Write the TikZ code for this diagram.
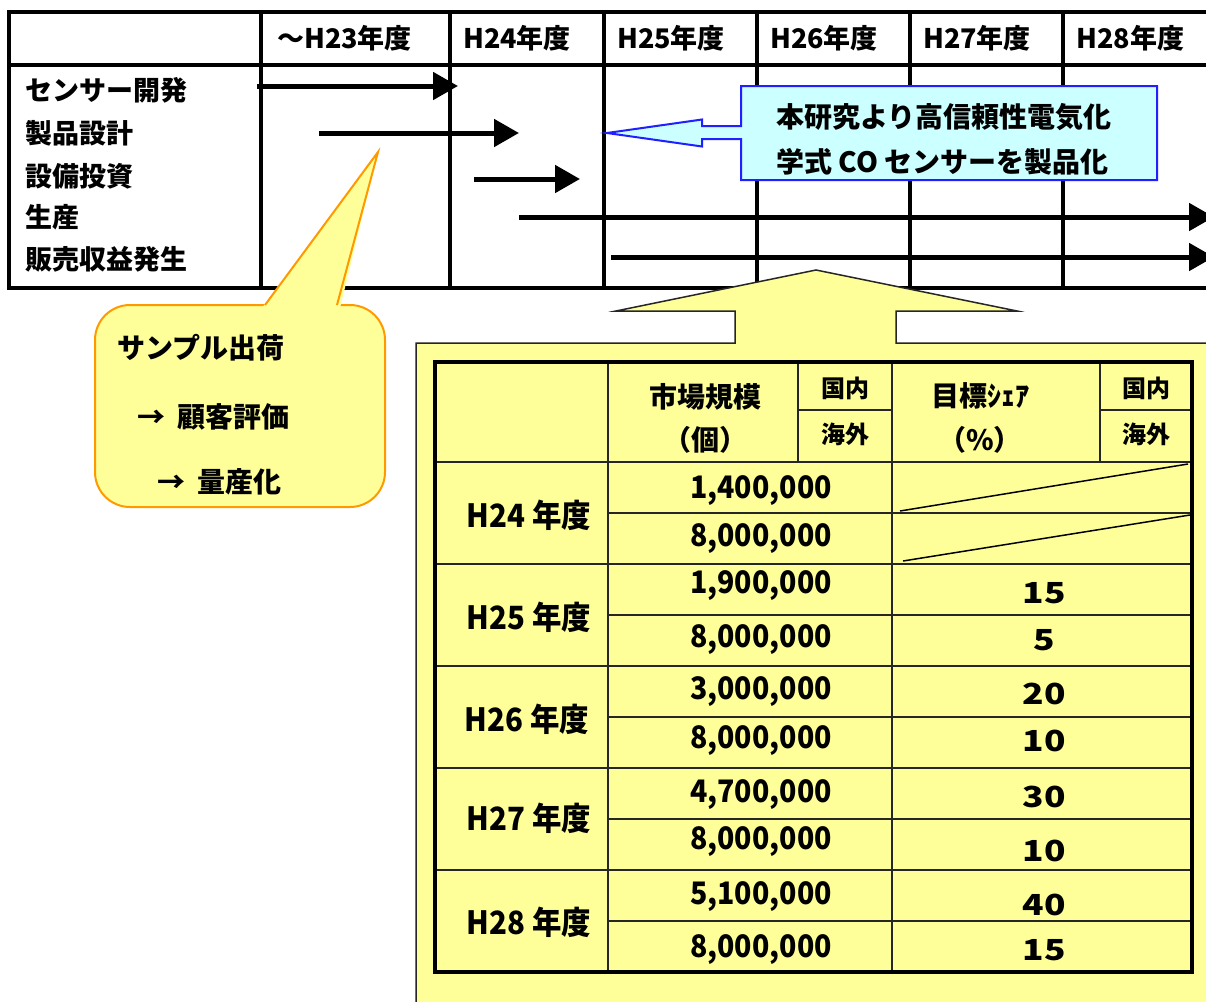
\documentclass[tikz,border=0pt]{standalone}
\usepackage{fontspec}
\setmainfont{Noto Sans CJK JP}
\newfontfamily\narrowfont[FakeStretch=0.92]{Noto Sans CJK JP}
\newfontfamily\widefont[FakeStretch=1.22]{Noto Sans CJK JP}
\usetikzlibrary{arrows.meta}
\definecolor{ylw}{HTML}{FFFF99}
\definecolor{org}{HTML}{FF9900}
\definecolor{cyn}{HTML}{CCFFFF}
\definecolor{blu}{HTML}{1F1FFF}
\begin{document}
\begin{tikzpicture}[x=1pt,y=-1pt,
  hdr/.style={font=\bfseries\fontsize{27}{30}\selectfont, anchor=west, inner sep=0pt},
  rowlab/.style={font=\bfseries\fontsize{27}{30}\selectfont, anchor=west, inner sep=0pt},
  gantt/.style={line width=5pt, -{Triangle[length=25pt,width=27pt]}},
  grid/.style={line width=3.5pt, black},
  calltxt/.style={font=\bfseries\fontsize{28}{30}\selectfont, anchor=west, inner sep=0pt},
  tline/.style={line width=2.3pt, black!85},
  touter/.style={line width=3.5pt, black},
  thead/.style={font=\bfseries\fontsize{28}{30}\selectfont, inner sep=0pt},
  tsmall/.style={font=\bfseries\fontsize{24}{26}\selectfont, inner sep=0pt},
  tyear/.style={font=\narrowfont\bfseries\fontsize{32}{34}\selectfont, inner sep=0pt},
  tnum/.style={font=\narrowfont\bfseries\fontsize{31}{34}\selectfont, inner sep=0pt},
  tpct/.style={font=\widefont\bfseries\fontsize{29}{32}\selectfont, inner sep=0pt},
]
\useasboundingbox (0,0) rectangle (1206,1001);
\clip (0,0) rectangle (1206,1001);
\fill[white] (0,0) rectangle (1206,1001);

% ---------- top schedule table ----------
\draw[grid] (9,12) rectangle (1230,288);
\draw[grid] (9,65) -- (1230,65);
\foreach \xx in {261,450,604,757,910,1063} \draw[grid] (\xx,12) -- (\xx,288);

\node[hdr] (h23) at (277,38) {～H23年度};
\node[hdr] (h24) at (463,38) {H24年度};
\node[hdr] (h25) at (617,38) {H25年度};
\node[hdr] (h26) at (770,38) {H26年度};
\node[hdr] (h27) at (923,38) {H27年度};
\node[hdr] (h28) at (1076,38) {H28年度};

\node[rowlab] (r1) at (25,90) {センサー開発};
\node[rowlab] (r2) at (25,133) {製品設計};
\node[rowlab] (r3) at (25,176) {設備投資};
\node[rowlab] (r4) at (25,217) {生産};
\node[rowlab] (r5) at (25,259) {販売収益発生};

\coordinate (a1s) at (257,86);  \coordinate (a1e) at (458,86);
\coordinate (a2s) at (319,133); \coordinate (a2e) at (519,133);
\coordinate (a3s) at (474,179); \coordinate (a3e) at (580,179);
\coordinate (a4s) at (519,217); \coordinate (a4e) at (1214,217);
\coordinate (a5s) at (611,257); \coordinate (a5e) at (1214,257);
\draw[gantt] (a1s) -- (a1e);
\draw[gantt] (a2s) -- (a2e);
\draw[gantt] (a3s) -- (a3e);
\draw[gantt] (a4s) -- (a4e);
\draw[gantt] (a5s) -- (a5e);

% ---------- blue callout ----------
\draw[blu, line width=2pt, fill=cyn, line join=miter]
  (741,86) -- (1157,86) -- (1157,180) -- (741,180) -- (741,139) -- (702,139)
  -- (702,146.5) -- (607,133) -- (702,119.5) -- (702,126) -- (741,126) -- cycle;
\node[calltxt] (b1) at (776,117) {本研究より高信頼性電気化};
\node[calltxt] (b2) at (776,162) {学式 CO センサーを製品化};

% ---------- orange callout ----------
\draw[org, line width=2pt, fill=ylw, rounded corners=35pt] (95,305) rectangle (385,507);
\fill[ylw] (262,308) -- (378,152) -- (340,308) -- cycle;
\draw[org, line width=2pt, line join=miter] (265,305) -- (378,152) -- (337,305);
\node[calltxt] (c1) at (117,348) {サンプル出荷};
\node[calltxt] (c2) at (137,417) {→\hspace{12pt}顧客評価};
\node[calltxt] (c3) at (157,482) {→\hspace{12pt}量産化};

% ---------- big yellow arrow with box ----------
\draw[black!85, line width=1.5pt, fill=ylw, line join=miter]
  (416,1010) -- (416,343) -- (735,343) -- (735,311) -- (616,311) -- (816,270)
  -- (1017,311) -- (896,311) -- (896,343) -- (1215,343) -- (1215,1010) -- cycle;

% inner table
\foreach \yy in {513,615,717,819,921} \draw[tline] (608,\yy) -- (1192,\yy);
\foreach \yy in {462,564,666,768,870} \draw[tline] (435,\yy) -- (1192,\yy);
\draw[tline] (798,410) -- (892,410);
\draw[tline] (1100,410) -- (1192,410);
\draw[tline] (798,362) -- (798,462);
\draw[tline] (1100,362) -- (1100,462);
\draw[tline] (608,362) -- (608,972);
\draw[tline] (892,362) -- (892,972);
\draw[black, line width=1.5pt] (900,511) -- (1188,464);
\draw[black, line width=1.5pt] (903,561) -- (1190,515);
\draw[touter] (435,362) rectangle (1192,972);

\node[thead] (m1) at (705,397) {市場規模};
\node[thead] (m2) at (705,440) {（個）};
\node[thead] (s1) at (980,396) {目標ｼｪｱ};
\node[thead] (s2) at (980,440) {（\%）};
\node[tsmall] (d1) at (845,388) {国内};
\node[tsmall] (o1) at (845,434) {海外};
\node[tsmall] (d2) at (1146,388) {国内};
\node[tsmall] (o2) at (1146,434) {海外};

\node[tyear] (y24) at (529,515) {H24 年度};
\node[tyear] (y25) at (529,617) {H25 年度};
\node[tyear] (y26) at (527,719) {H26 年度};
\node[tyear] (y27) at (529,818) {H27 年度};
\node[tyear] (y28) at (529,922) {H28 年度};

\node[tnum] (n1) at (761,491) {1,400,000};
\node[tnum] (n2) at (761,539) {8,000,000};
\node[tnum] (n3) at (761,586) {1,900,000};
\node[tnum] (n4) at (761,640) {8,000,000};
\node[tnum] (n5) at (761,692) {3,000,000};
\node[tnum] (n6) at (761,741) {8,000,000};
\node[tnum] (n7) at (761,795) {4,700,000};
\node[tnum] (n8) at (761,842) {8,000,000};
\node[tnum] (n9) at (761,897) {5,100,000};
\node[tnum] (n10) at (761,950) {8,000,000};

\node[tpct] (p1) at (1044,593) {15};
\node[tpct] (p2) at (1044,640) {5};
\node[tpct] (p3) at (1044,694) {20};
\node[tpct] (p4) at (1044,741) {10};
\node[tpct] (p5) at (1044,797) {30};
\node[tpct] (p6) at (1044,851) {10};
\node[tpct] (p7) at (1044,905) {40};
\node[tpct] (p8) at (1044,950) {15};
\end{tikzpicture}
\end{document}
